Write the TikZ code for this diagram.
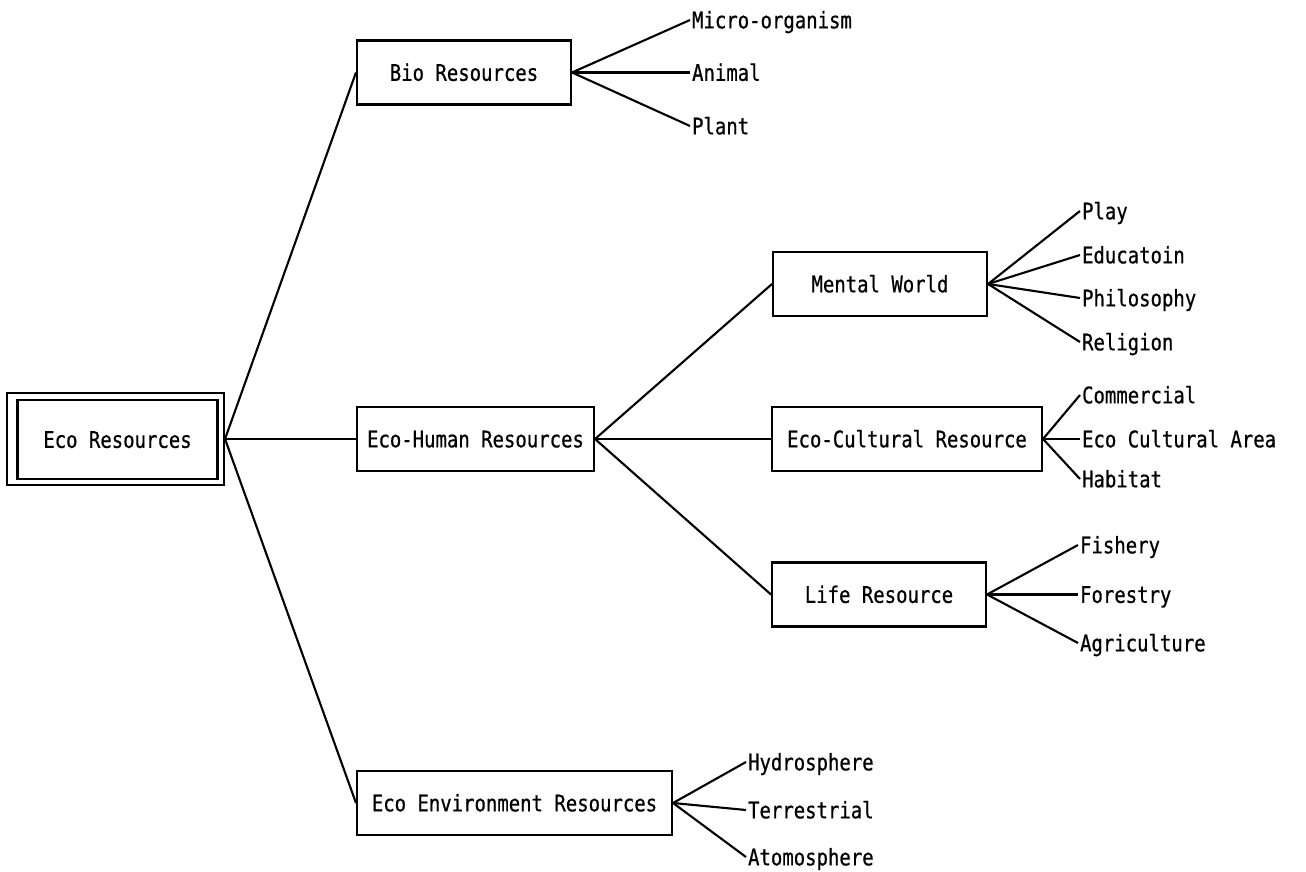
\documentclass[tikz,border=0pt]{standalone}
\usepackage{fontspec}
\newfontfamily\gothic[FakeStretch=0.83,FakeBold=0.6]{DejaVu Sans Mono}
\begin{document}
\begin{tikzpicture}[x=0.02cm,y=-0.02cm]
		\tikzset{box/.style = {shape=rectangle,draw,line width=1.2pt,minimum width=4.28cm,minimum height=1.28cm,inner sep=0pt,text height=9.5pt,text depth=0pt,font=\gothic\fontsize{13}{14}\selectfont}}
		\tikzset{leaf/.style = {anchor=west,inner sep=1pt,text height=9.5pt,text depth=0pt,font=\gothic\fontsize{13}{14}\selectfont}}
		\tikzset{link/.style = {draw,line width=1.2pt}}
		\useasboundingbox (0,0) rectangle (1306,872);
		\node[box,minimum width=4.34cm,minimum height=1.84cm] (root) at (115.5,439) {};
		\node[box,minimum width=4.0cm,minimum height=1.58cm] (rootin) at (117.5,439.5) {Eco Resources};
		\node[box] (bio) at (464,72.5) {Bio Resources};
		\node[box,minimum width=4.74cm] (human) at (475.5,439) {Eco-Human Resources};
		\node[box,minimum width=6.3cm] (env) at (514.5,803) {Eco Environment Resources};
		\node[box] (mental) at (880,284) {Mental World};
		\node[box,minimum width=5.4cm] (cultural) at (907,439) {Eco-Cultural Resource};
		\node[box] (life) at (879,594.5) {Life Resource};
		% leaves
		\node[leaf] (micro) at (690,20) {Micro-organism};
		\node[leaf] (animal) at (690,72.5) {Animal};
		\node[leaf] (plant) at (690,126) {Plant};
		\node[leaf] (play) at (1080,211) {Play};
		\node[leaf] (educ) at (1080,255) {Educatoin};
		\node[leaf] (philo) at (1080,298) {Philosophy};
		\node[leaf] (relig) at (1080,342) {Religion};
		\node[leaf] (comm) at (1080,395) {Commercial};
		\node[leaf] (area) at (1080,439) {Eco Cultural Area};
		\node[leaf] (habitat) at (1080,479) {Habitat};
		\node[leaf] (fish) at (1078,545) {Fishery};
		\node[leaf] (forest) at (1078,594.5) {Forestry};
		\node[leaf] (agri) at (1078,643) {Agriculture};
		\node[leaf] (hydro) at (746,762) {Hydrosphere};
		\node[leaf] (terr) at (746,810) {Terrestrial};
		\node[leaf] (atmo) at (746,857) {Atomosphere};
		% connectors
		\path[link] (root.east) edge (bio.west) edge (human.west) edge (env.west);
		\path[link] (human.east) edge (mental.west) edge (cultural.west) edge (life.west);
		\path[link] (bio.east) edge (micro.west) edge (animal.west) edge (plant.west);
		\path[link] (mental.east) edge (play.west) edge (educ.west) edge (philo.west) edge (relig.west);
		\path[link] (cultural.east) edge (comm.west) edge (area.west) edge (habitat.west);
		\path[link] (life.east) edge (fish.west) edge (forest.west) edge (agri.west);
		\path[link] (env.east) edge (hydro.west) edge (terr.west) edge (atmo.west);
	\end{tikzpicture}
\end{document}
